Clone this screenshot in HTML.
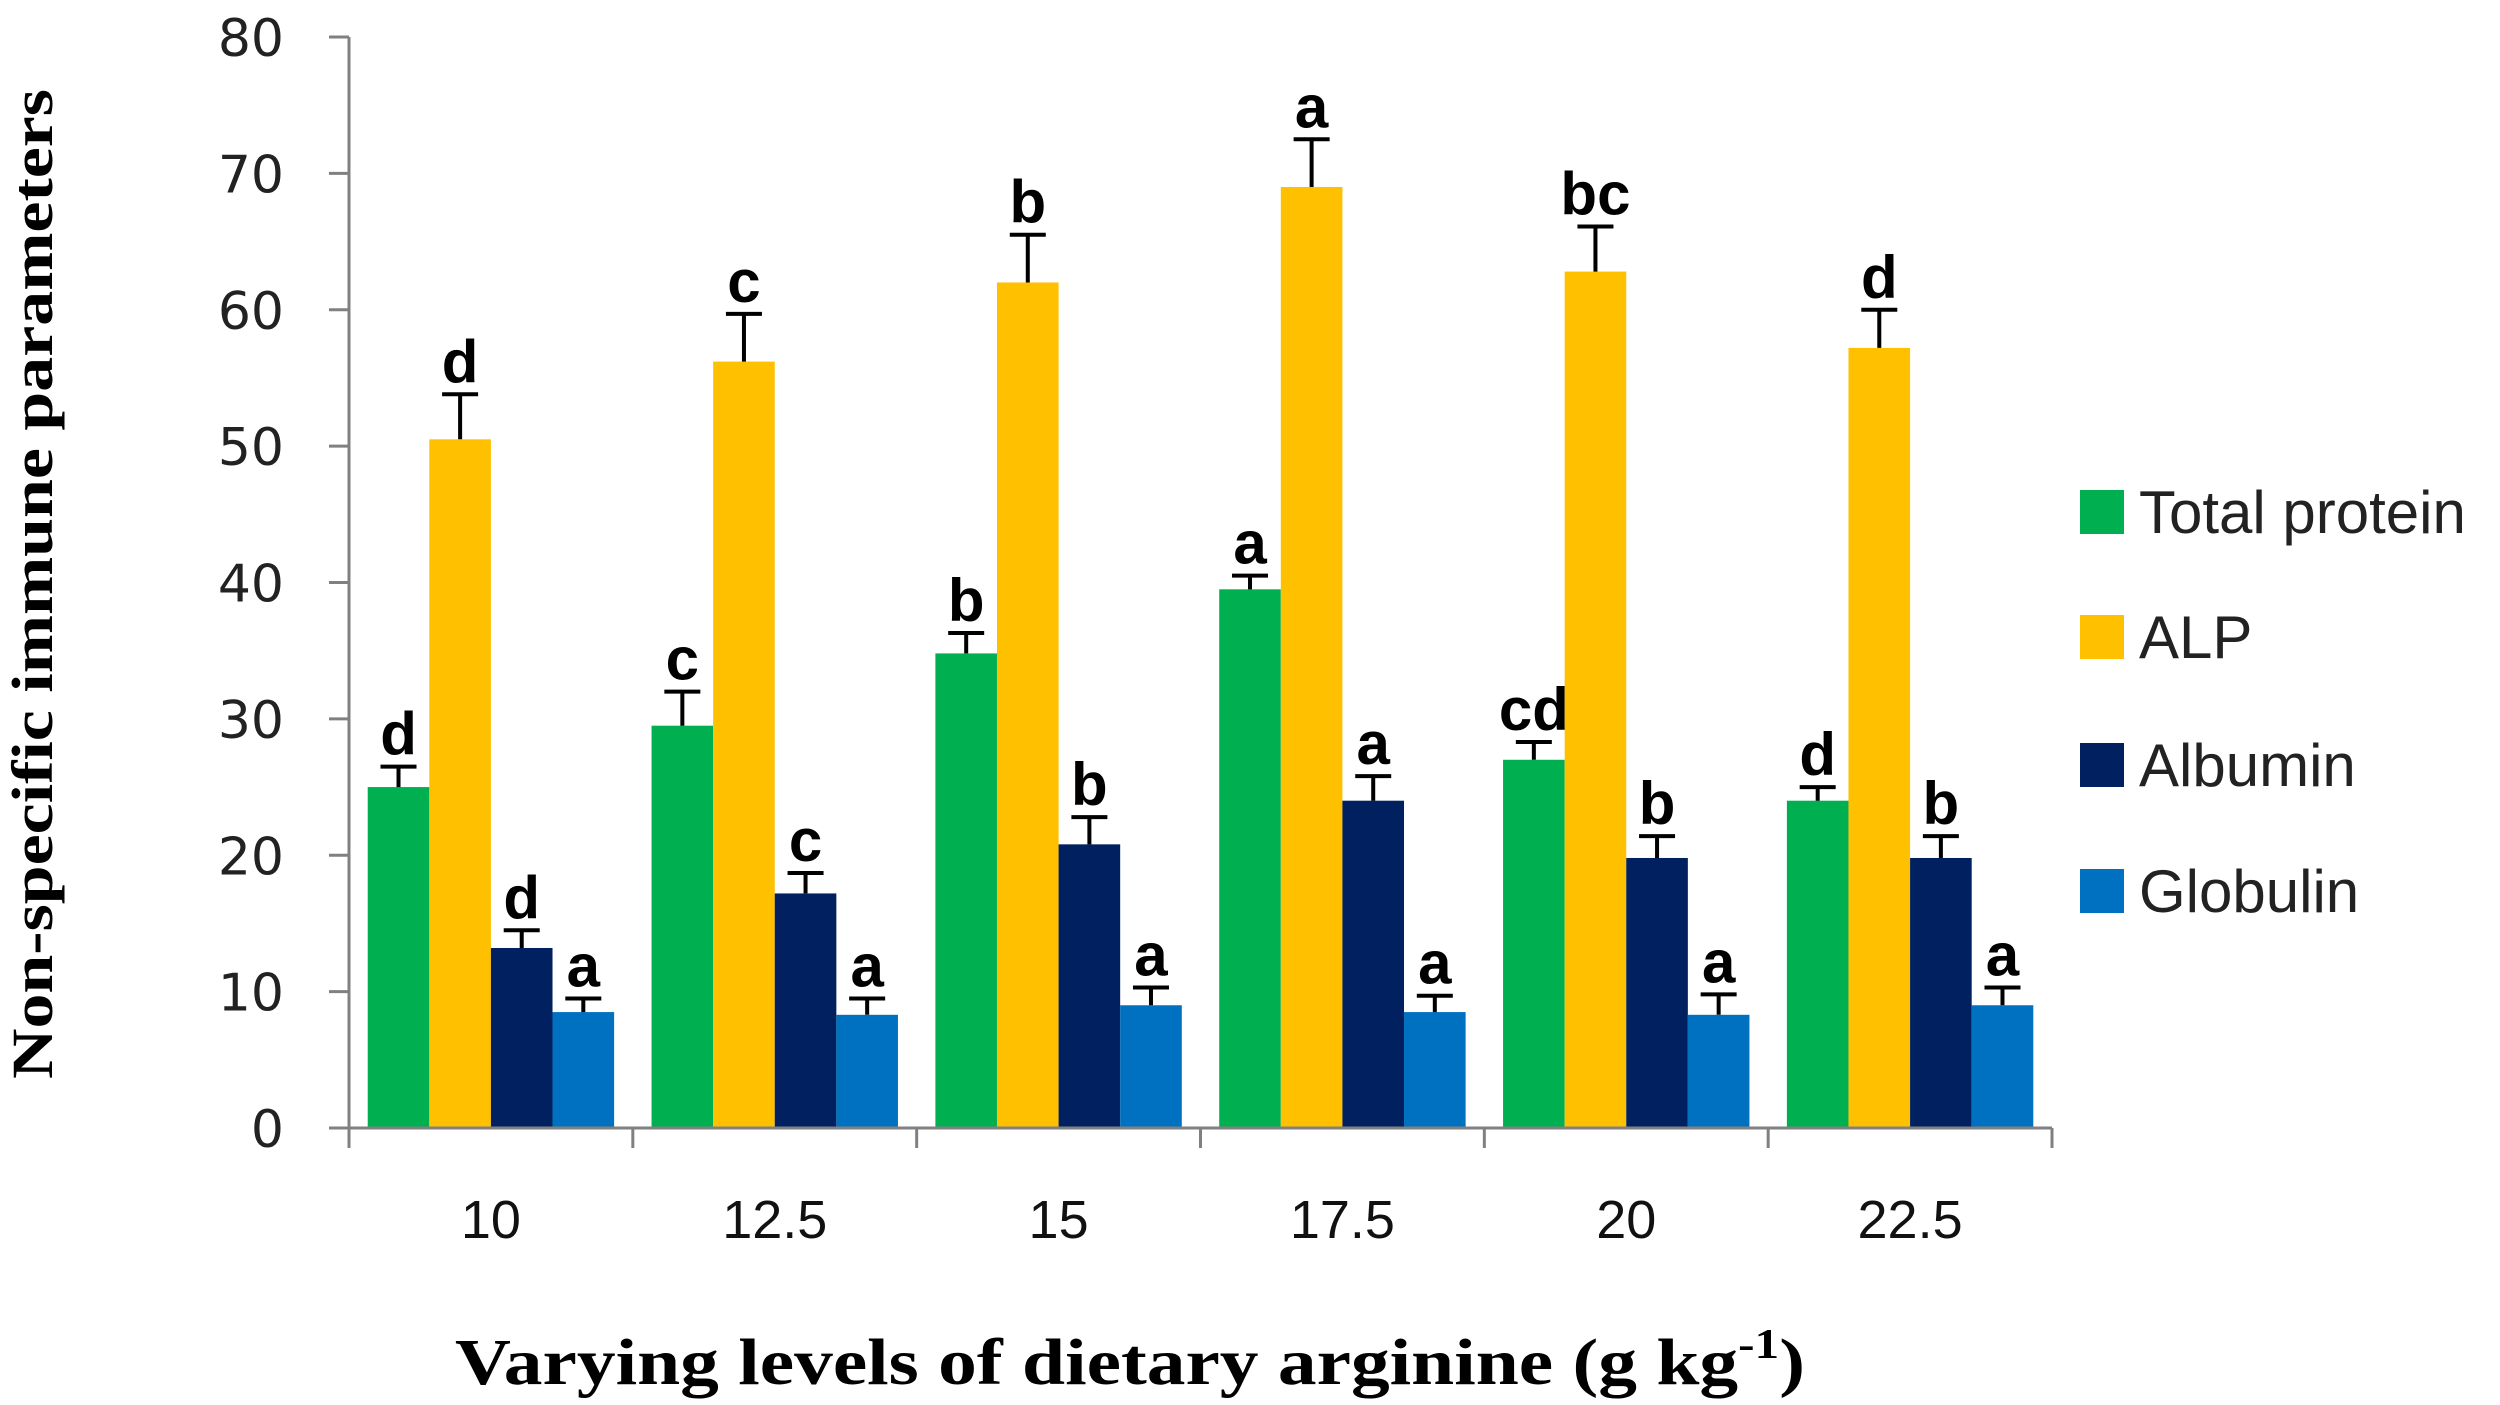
<!DOCTYPE html>
<html><head><meta charset="utf-8"><style>
body{margin:0;background:#fff}
svg{display:block}
</style></head><body>
<svg id="chart" width="2500" height="1405" viewBox="0 0 2500 1405" xmlns="http://www.w3.org/2000/svg">
<g id="plot"></g>
<text transform="translate(52,584) rotate(-90)" text-anchor="middle" font-family="Liberation Serif, serif" font-weight="bold" font-size="58" textLength="990" lengthAdjust="spacingAndGlyphs">Non-specific immune parameters</text>
<text x="1130" y="1384" text-anchor="middle" font-family="Liberation Serif, serif" font-weight="bold" font-size="66" textLength="1350" lengthAdjust="spacingAndGlyphs">Varying levels of dietary arginine (g kg<tspan dy="-26" font-size="42">-1</tspan><tspan dy="26">)</tspan></text>
<g id="legend"></g>
</svg>
<script>
const categories=["10","12.5","15","17.5","20","22.5"];
const seriesNames=["Total protein","ALP","Albumin","Globulin"];
const totalProtein=[25,29.5,34.8,39.5,27,24];
const alp=[50.5,56.2,62,69,62.8,57.2];
const albumin=[13.2,17.2,20.8,24,19.8,19.8];
const globulin=[8.5,8.3,9,8.5,8.3,9];
const errTotalProtein=[1.5,2.5,1.5,1,1.3,1];
const errAlp=[3.3,3.5,3.5,3.5,3.3,2.8];
const errAlbumin=[1.3,1.5,2,1.8,1.6,1.6];
const errGlobulin=[1,1.2,1.3,1.2,1.5,1.3];
const lettersTotalProtein=["d","c","b","a","cd","d"];
const lettersAlp=["d","c","b","a","bc","d"];
const lettersAlbumin=["d","c","b","a","b","b"];
const lettersGlobulin=["a","a","a","a","a","a"];
const yTicks=[0,10,20,30,40,50,60,70,80];

const NS="http://www.w3.org/2000/svg";
const colors=["#00b050","#ffc000","#002060","#0070c0"];
const vals=[totalProtein,alp,albumin,globulin];
const errs=[errTotalProtein,errAlp,errAlbumin,errGlobulin];
const lets=[lettersTotalProtein,lettersAlp,lettersAlbumin,lettersGlobulin];
const X0=349,X1=2052,Y0=1128,Y80=37;
const yS=v=>Y0-(v/80)*(Y0-Y80);
const catW=(X1-X0)/categories.length;
const barW=61.6, pad=(catW-4*barW)/2;
const xS=(c,s)=>X0+c*catW+pad+s*barW;
const plot=document.getElementById('plot');
function mk(tag,attrs,parent){const e=document.createElementNS(NS,tag);for(const k in attrs)e.setAttribute(k,attrs[k]);(parent||plot).appendChild(e);return e;}

yTicks.forEach(t=>{
  const y=yS(t);
  const l=mk('line',{x1:X0-20,x2:X0,y1:y,y2:y,stroke:'#808080','stroke-width':3});
  
  
  const tx=mk('text',{x:284,y:y+19,'text-anchor':'end','font-family':'DejaVu Sans, sans-serif','font-size':52,fill:'#222'});
  tx.textContent=t;
  
  
});
categories.forEach((c,i)=>{
  for(let s=0;s<4;s++){
    const v=vals[s][i],e=errs[s][i];
    const x=xS(i,s),y=yS(v);
    const r=mk('rect',{x:x,y:y,width:barW,height:Y0-y,fill:colors[s]});
    
    
    const cx=x+barW/2,ye=yS(v+e);
    const eb=mk('path',{d:`M${cx},${y} V${ye} M${cx-18},${ye} H${cx+18}`,stroke:'#000','stroke-width':4,fill:'none'});
    
    
    const lt=mk('text',{x:cx,y:ye-12,'text-anchor':'middle','font-family':'Liberation Sans, sans-serif','font-weight':'bold','font-size':60,fill:'#000'});
    lt.textContent=lets[s][i];
    
    
  }
  const tl=mk('text',{x:X0+(i+0.5)*catW,y:1238,'text-anchor':'middle','font-family':'Liberation Sans, sans-serif','font-size':54,fill:'#111'});
  tl.textContent=c;
  
  
});
for(let i=0;i<=categories.length;i++){
  const x=X0+i*catW;
  const t=mk('line',{x1:x,x2:x,y1:Y0,y2:Y0+20,stroke:'#808080','stroke-width':3});
  
  
}
const ya=mk('line',{x1:X0,x2:X0,y1:Y80,y2:Y0+20,stroke:'#808080','stroke-width':3});


const xa=mk('line',{x1:X0-20,x2:X1,y1:Y0,y2:Y0,stroke:'#808080','stroke-width':3});



const leg=document.getElementById('legend');
const legY=[512,637,765,891];
seriesNames.forEach((n,s)=>{
  const g=mk('g',{},leg);
  
  
  mk('rect',{x:2080,y:legY[s]-22,width:44,height:44,fill:colors[s]},g);
  const t=mk('text',{x:2139,y:legY[s]+21,'font-family':'Liberation Sans, sans-serif','font-size':60,fill:'#222'},g);
  t.textContent=n;
});
</script>
</body></html>
